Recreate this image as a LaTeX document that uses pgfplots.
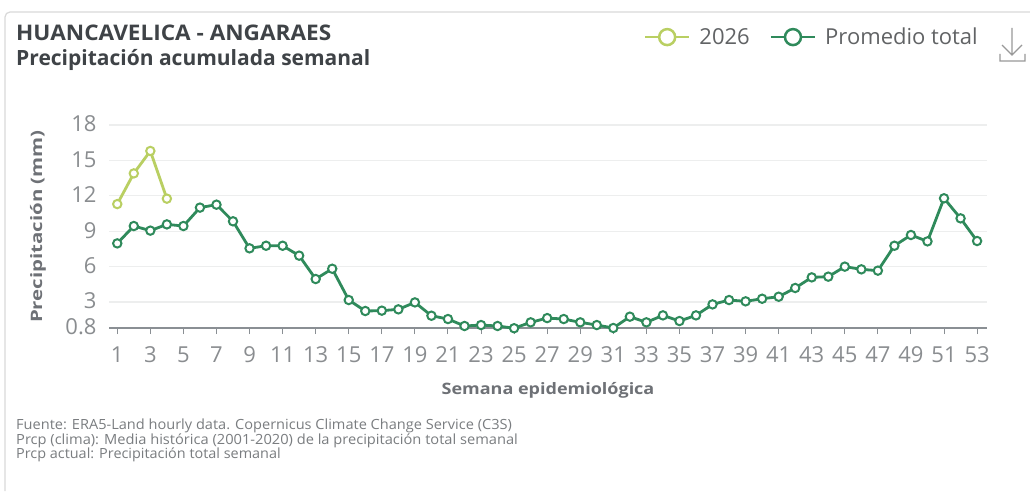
\documentclass[border=0pt]{standalone}
\usepackage{pgfplots}
\usepackage{fontspec}
\pgfplotsset{compat=1.18}
\setmainfont{Open Sans}
\definecolor{avg}{HTML}{2F8A5B}
\definecolor{cur}{HTML}{B9CF62}
\definecolor{gridc}{HTML}{EDEEEE}
\definecolor{axisc}{HTML}{8A8F94}
\definecolor{tickc}{HTML}{8A8D90}
\definecolor{titlec}{HTML}{3F4347}
\definecolor{labc}{HTML}{6E7176}
\definecolor{notec}{HTML}{7A7D80}
\pgfplotstableread{
w v
1 7.97
2 9.44
3 9.05
4 9.58
5 9.44
6 11.0
7 11.25
8 9.84
9 7.55
10 7.77
11 7.77
12 6.93
13 4.95
14 5.82
15 3.17
16 2.24
17 2.27
18 2.38
19 2.97
20 1.84
21 1.56
22 0.97
23 1.05
24 0.97
25 0.78
26 1.28
27 1.64
28 1.56
29 1.28
30 1.05
31 0.8
32 1.76
33 1.28
34 1.87
35 1.39
36 1.87
37 2.8
38 3.17
39 3.06
40 3.28
41 3.45
42 4.19
43 5.09
44 5.15
45 6.0
46 5.77
47 5.66
48 7.77
49 8.68
50 8.14
51 11.79
52 10.09
53 8.17
}\avgtable
\pgfplotstableread{
w v
1 11.3
2 13.9
3 15.8
4 11.76
}\curtable
\begin{document}
\begin{tikzpicture}[x=1pt,y=1pt]
\useasboundingbox (0,0) rectangle (1030,491);
\fill[white] (0,0) rectangle (1030,491);
\draw[color=black!15,line width=1.2pt,rounded corners=5pt] (5,0) -- (5,479) -- (1030,479);
\begin{axis}[
  at={(109pt,163pt)}, anchor=south west,
  scale only axis, width=878pt, height=203pt,
  xmin=0.5, xmax=53.6, ymin=0.8, ymax=18,
  clip=false,
  axis x line=bottom, axis y line=left,
  x axis line style={-, color=axisc, line width=1.3pt},
  y axis line style={draw=none},
  xtick={1,3,...,53},
  ytick={0.8,3,6,9,12,15,18},
  yticklabels={0.8,3,6,9,12,15,18},
  scaled y ticks=false,
  /pgf/number format/assume math mode=true,
  tick align=outside,
  x tick style={color=axisc, line width=1pt},
  major tick length=6pt,
  y tick style={draw=none},
  ymajorgrids,
  grid style={color=gridc, line width=1.2pt},
  tick label style={color=tickc, font=\fontsize{22}{24}\selectfont},
  xticklabel style={yshift=-9.5pt},
  yticklabel style={xshift=-3pt, yshift=1pt},
  xlabel={\scalebox{1.2}[1.05]{\textbf{Semana epidemiológica}}},
  xlabel style={color=labc, font=\fontsize{15}{17}\selectfont, at={(axis description cs:0.5,0)}, anchor=center, yshift=-62pt},
  ylabel={\scalebox{1.36}[1.05]{\textbf{Precipitación (mm)}}},
  ylabel style={color=labc, font=\fontsize{15}{17}\selectfont, at={(rel axis cs:0,0.5)}, anchor=center, yshift=71pt},
  legend columns=2,
  legend style={draw=none, fill=none, at={(0.992,1.433)}, anchor=east, inner sep=0pt, font=\fontsize{22}{24}\selectfont, text=tickc!70!black, /tikz/every even column/.append style={column sep=18pt}, /tikz/every odd column/.append style={column sep=7pt}},
  legend cell align=left,
  legend image code/.code={
    \draw[#1, line width=2.5pt] (0pt,0pt) -- (44pt,0pt);
    \draw[#1, line width=2.5pt, fill=white] (22pt,0pt) circle (8pt);
  },
  every axis plot/.append style={line width=2.8pt},
]
\addplot[color=cur, mark=*, mark size=4.2pt, mark options={fill=white, line width=2pt}] table[x=w,y=v] {\curtable};
\addlegendentry{2026}
\addplot[color=avg, mark=*, mark size=4.2pt, mark options={fill=white, line width=2pt}] table[x=w,y=v] {\avgtable};
\addlegendentry{Promedio total}
\end{axis}
\node[anchor=base west, inner sep=0pt, color=titlec, font=\fontsize{21.5}{23}\selectfont\bfseries] at (16,450) {\scalebox{1.05}[1]{HUANCAVELICA - ANGARAES}};
\node[anchor=base west, inner sep=0pt, color=titlec, font=\fontsize{21}{23}\selectfont\bfseries] at (16,425) {Precipitación acumulada semanal};
\node[anchor=base west, inner sep=0pt, color=notec, font=\fontsize{14}{13}\selectfont] at (16,62) {\scalebox{1.04}[1]{Fuente: ERA5-Land hourly data. Copernicus Climate Change Service (C3S)}};
\node[anchor=base west, inner sep=0pt, color=notec, font=\fontsize{14}{13}\selectfont] at (16,47) {\scalebox{1.046}[1]{Prcp (clima): Media histórica (2001-2020) de la precipitación total semanal}};
\node[anchor=base west, inner sep=0pt, color=notec, font=\fontsize{14}{13}\selectfont] at (16,33) {\scalebox{1.03}[1]{Prcp actual: Precipitación total semanal}};
\draw[color=black!40, line width=1.2pt] (1012,463) -- (1012,436) (1002,446) -- (1012,436) -- (1022,446) (1000,437) -- (1000,430) -- (1025,430) -- (1025,437);
\end{tikzpicture}
\end{document}
